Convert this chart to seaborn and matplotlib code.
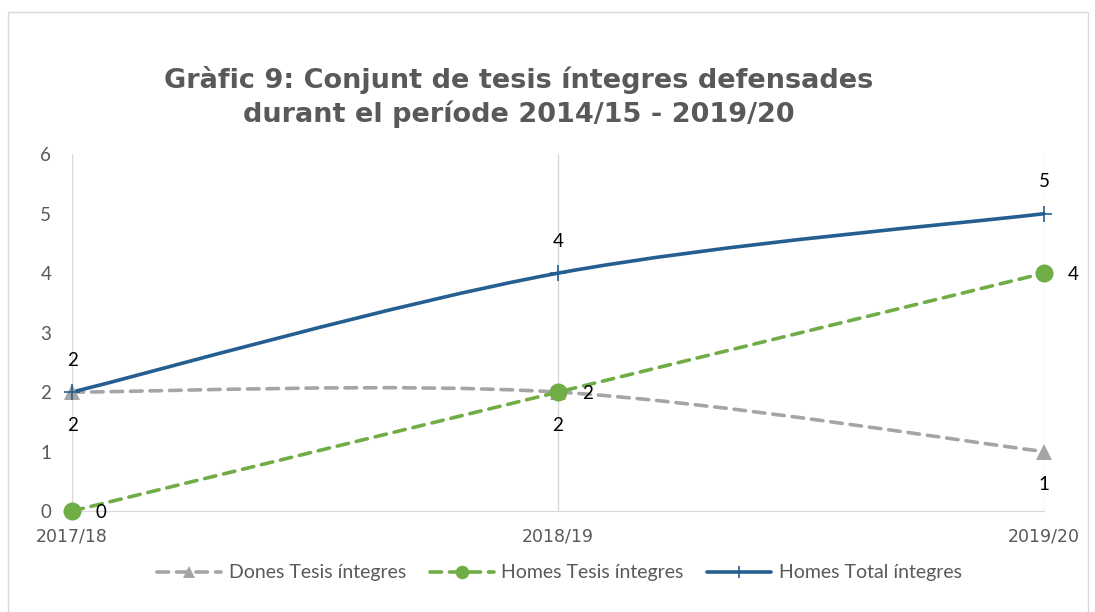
import numpy as np
import matplotlib
matplotlib.use("Agg")
import matplotlib.pyplot as plt
import seaborn as sns
from matplotlib.path import Path
from matplotlib.patches import PathPatch, Rectangle
from matplotlib.lines import Line2D

# ============================================
# Data
# ============================================

years = ["2017/18", "2018/19", "2019/20"]
dones_tesis = [2, 2, 1]
homes_tesis = [0, 2, 4]
homes_total = [2, 4, 5]

series_names = ["Dones Tesis íntegres", "Homes Tesis íntegres", "Homes Total íntegres"]

title = "Gràfic 9: Conjunt de tesis íntegres defensades\ndurant el període 2014/15 - 2019/20"

GRAY = "#a5a5a5"
GREEN = "#70ad47"
BLUE = "#255e91"
TXT = "#595959"
GRID = "#d9d9d9"

sns.set_style("white")
plt.rcParams["font.family"] = ["Lato", "DejaVu Sans"]


def smooth_path(xs, ys):
    # Excel-like smoothed line: cubic bezier through each point
    pts = np.column_stack([xs, ys]).astype(float)
    n = len(pts)
    verts = [pts[0]]
    codes = [Path.MOVETO]
    for i in range(n - 1):
        p0 = pts[i - 1] if i > 0 else pts[i]
        p1 = pts[i]
        p2 = pts[i + 1]
        p3 = pts[i + 2] if i + 2 < n else pts[i + 1]
        verts += [p1 + (p2 - p0) / 6, p2 - (p3 - p1) / 6, p2]
        codes += [Path.CURVE4] * 3
    return Path(verts, codes)


fig = plt.figure(figsize=(10.95, 6.12), dpi=100)
fig.patches.append(Rectangle((0.007, -0.01), 0.987, 0.99, transform=fig.transFigure,
                             fill=False, edgecolor=GRID, linewidth=1))
ax = fig.add_axes([0.0658, 0.165, 0.8876, 0.583])

xpos = np.arange(len(years))

styles = [
    (dones_tesis, GRAY, (0, (3.2, 2.2)), "^", 12, 1),
    (homes_tesis, GREEN, (0, (3.2, 2.2)), "o", 13, 1),
    (homes_total, BLUE, "-", "+", 12, 1.2),
]

handles = []
for (vals, col, ls, mk, ms, mew), name in zip(styles, series_names):
    patch = PathPatch(smooth_path(xpos, vals), fill=False, edgecolor=col,
                      linewidth=2.6, linestyle=ls, capstyle="round", zorder=3,
                      clip_on=False)
    ax.add_patch(patch)
    sns.lineplot(x=xpos, y=vals, ax=ax, linestyle="none", marker=mk, markersize=ms,
                 color=col, markeredgecolor=col, markeredgewidth=mew if mk == "+" else 0,
                 zorder=4, clip_on=False)
    handles.append(Line2D([0], [0], color=col, linewidth=2.6, linestyle=ls,
                          dash_capstyle="round", marker=mk,
                          markersize=ms * 0.75, markeredgewidth=mew if mk == "+" else 0))

# data labels
for x, v in zip(xpos, dones_tesis):
    ax.annotate(str(v), (x, v), xytext=(0, -24), textcoords="offset points",
                ha="center", va="center", fontsize=13.5, color="black")
for x, v in zip(xpos, homes_tesis):
    ax.annotate(str(v), (x, v), xytext=(21, -1), textcoords="offset points",
                ha="center", va="center", fontsize=13.5, color="black")
for x, v in zip(xpos, homes_total):
    ax.annotate(str(v), (x, v), xytext=(0, 23), textcoords="offset points",
                ha="center", va="center", fontsize=13.5, color="black")

ax.set_xlim(0, 2)
ax.set_ylim(0, 6)
ax.set_xticks(xpos)
ax.set_xticklabels(years, fontfamily="DejaVu Sans", fontsize=12.5, color=TXT)
ax.set_yticks(range(0, 7))
ax.tick_params(axis="y", length=0, pad=15, labelsize=13.5, labelcolor=TXT)
ax.tick_params(axis="x", length=0, pad=12)
ax.xaxis.grid(True, color=GRID, linewidth=1)
ax.yaxis.grid(False)
for s in ["top", "right", "left"]:
    ax.spines[s].set_visible(False)
ax.spines["bottom"].set_color(GRID)
ax.set_xlabel("")
ax.set_ylabel("")

fig.text(0.474, 0.842, title, ha="center", va="center", fontsize=19.5,
         fontweight="bold", color=TXT, linespacing=1.3, family=["DejaVu Sans"])

fig.legend(handles, series_names, loc="center", bbox_to_anchor=(0.511, 0.064), ncol=3,
           frameon=False, fontsize=14, labelcolor=TXT, handlelength=3.3,
           columnspacing=1.2, handletextpad=0.4)

fig.savefig("out.png", dpi=100)
